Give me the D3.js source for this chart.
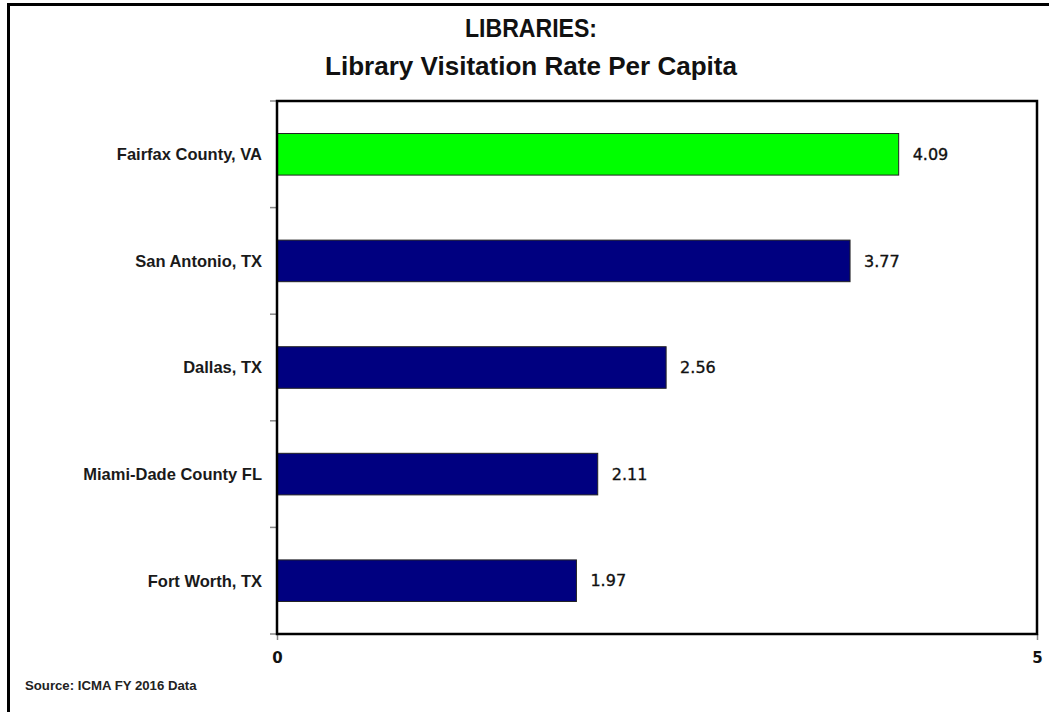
<!DOCTYPE html>
<html>
<head>
<meta charset="utf-8">
<script src="https://cdn.jsdelivr.net/npm/d3@7"></script>
<style>
  html, body { margin: 0; padding: 0; background: #fff; }
  svg { display: block; }
</style>
</head>
<body>
<svg id="chart" width="1049" height="712"></svg>
<script>
// Library visitation rate per capita, ICMA FY 2016
const categories = ["Fairfax County, VA", "San Antonio, TX", "Dallas, TX", "Miami-Dade County FL", "Fort Worth, TX"];
const values = [4.09, 3.77, 2.56, 2.11, 1.97];
const barColors = ["#00FF00", "#000080", "#000080", "#000080", "#000080"];
const xTicks = [0, 5];
const titleLines = ["LIBRARIES:", "Library Visitation Rate Per Capita"];
const sourceNote = "Source: ICMA FY 2016 Data";

const svg = d3.select("#chart");
const plot = { left: 277, top: 101, right: 1037, bottom: 634 };

// Outer frame
svg.append("rect")
  .attr("x", 8.5).attr("y", 4.5)
  .attr("width", 1060).attr("height", 720)
  .attr("fill", "none").attr("stroke", "#000").attr("stroke-width", 3);

// Title, set in a narrowed bold sans
const titleWidths = [132, 412];
svg.append("g").selectAll("text")
  .data(titleLines)
  .join("text")
  .attr("x", 531)
  .attr("y", (d, i) => 37 + i * 38)
  .attr("text-anchor", "middle")
  .attr("font-family", "'Liberation Sans', Arial, sans-serif")
  .attr("font-weight", "bold")
  .attr("font-size", 26)
  .attr("textLength", (d, i) => titleWidths[i])
  .attr("lengthAdjust", "spacingAndGlyphs")
  .attr("fill", "#111")
  .text(d => d);

const x = d3.scaleLinear().domain([0, 5]).range([plot.left, plot.right]);
const y = d3.scaleBand()
  .domain(categories)
  .range([plot.top, plot.bottom])
  .paddingInner(0.61)
  .paddingOuter(0.305);

// Bars
svg.append("g").selectAll("rect")
  .data(values)
  .join("rect")
  .attr("x", x(0))
  .attr("y", (d, i) => y(categories[i]))
  .attr("width", d => x(d) - x(0))
  .attr("height", y.bandwidth())
  .attr("fill", (d, i) => barColors[i])
  .attr("stroke", "#222")
  .attr("stroke-width", 1);

// Value labels
svg.append("g").selectAll("text")
  .data(values)
  .join("text")
  .attr("x", d => x(d) + 14)
  .attr("y", (d, i) => y(categories[i]) + y.bandwidth() / 2)
  .attr("dy", "0.36em")
  .attr("font-family", "'DejaVu Sans', Verdana, sans-serif")
  .attr("font-size", 16)
  .attr("fill", "#111")
  .attr("stroke", "#111")
  .attr("stroke-width", 0.35)
  .text(d => d.toFixed(2));

// Category tick marks at band boundaries
const boundaries = d3.range(categories.length + 1).map(i => plot.top + i * y.step());
svg.append("g").selectAll("line")
  .data(boundaries)
  .join("line")
  .attr("x1", plot.left - 7).attr("x2", plot.left)
  .attr("y1", d => d).attr("y2", d => d)
  .attr("stroke", "#888").attr("stroke-width", 1.5);

// Category labels
svg.append("g").selectAll("text")
  .data(categories)
  .join("text")
  .attr("x", 262)
  .attr("y", d => y(d) + y.bandwidth() / 2)
  .attr("dy", "0.36em")
  .attr("text-anchor", "end")
  .attr("font-family", "'Liberation Sans', Arial, sans-serif")
  .attr("font-weight", "bold")
  .attr("font-size", 16.5)
  .attr("fill", "#1a1a1a")
  .text(d => d);

// X axis
const xAxis = d3.axisBottom(x).tickValues(xTicks).tickSize(6).tickFormat(d3.format("d"));
const gx = svg.append("g")
  .attr("transform", `translate(0,${plot.bottom})`)
  .call(xAxis);
gx.select(".domain").remove();
gx.selectAll(".tick line").attr("stroke", "#888").attr("stroke-width", 1.5);
gx.selectAll(".tick text")
  .attr("y", 18)
  .attr("font-family", "'DejaVu Sans', Verdana, sans-serif")
  .attr("font-weight", "bold")
  .attr("font-size", 15)
  .attr("fill", "#111");

// Plot frame
svg.append("rect")
  .attr("x", plot.left).attr("y", plot.top)
  .attr("width", plot.right - plot.left).attr("height", plot.bottom - plot.top)
  .attr("fill", "none").attr("stroke", "#000").attr("stroke-width", 2.5);

// Source note
svg.append("text")
  .attr("x", 25).attr("y", 690)
  .attr("font-family", "'Liberation Sans', Arial, sans-serif")
  .attr("font-weight", "bold")
  .attr("font-size", 13.2)
  .attr("fill", "#222")
  .text(sourceNote);
</script>
</body>
</html>
